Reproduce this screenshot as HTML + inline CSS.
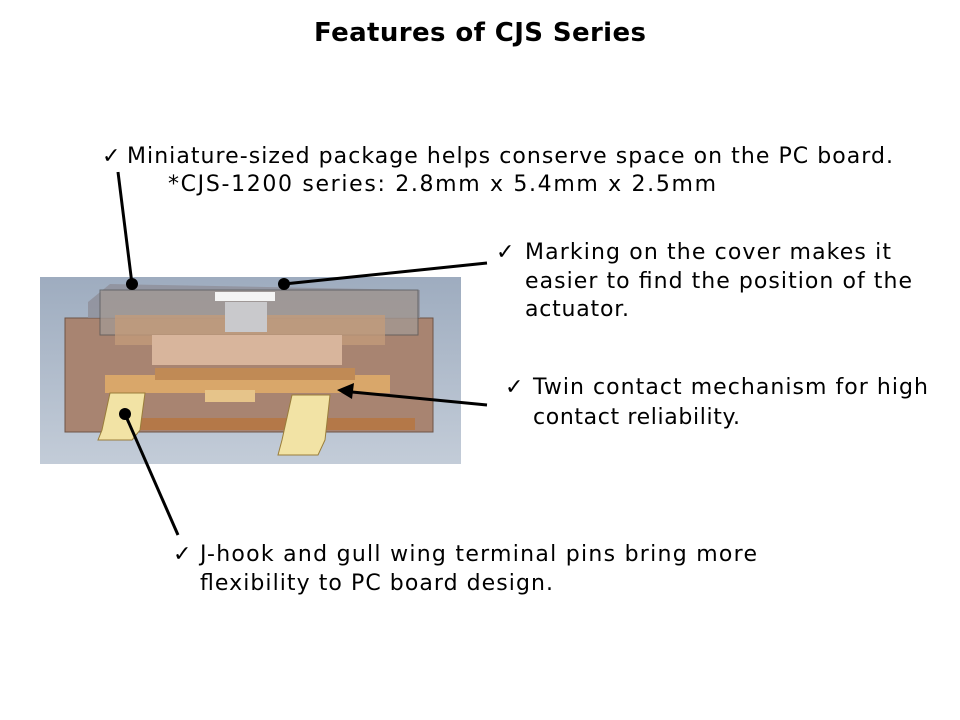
<!DOCTYPE html>
<html><head><meta charset="utf-8"><style>
html,body{margin:0;padding:0;background:#fff;}
svg{display:block;}
text{font-family:"DejaVu Sans","Liberation Sans",sans-serif;font-size:22px;fill:#000;}
</style></head><body>
<svg width="960" height="720" viewBox="0 0 960 720" xmlns="http://www.w3.org/2000/svg">
<defs>
<linearGradient id="bg" x1="0" y1="0" x2="0" y2="1">
<stop offset="0" stop-color="#9eacbf"/><stop offset="1" stop-color="#c3ccd8"/>
</linearGradient>
</defs>
<text x="314" y="41" textLength="332" font-weight="bold" style="font-size:26px;font-family:'DejaVu Sans',sans-serif">Features of CJS Series</text>

<!-- picture -->
<rect x="40" y="277" width="421" height="187" fill="url(#bg)"/>
<rect x="65" y="318" width="368" height="114" fill="#a88471" stroke="#6e5446" stroke-width="1"/>
<polygon points="88,302 110,284 420,290 420,318 88,318" fill="#8e8f98" opacity="0.8"/>
<rect x="100" y="290" width="318" height="45" fill="#a39a94" stroke="#555" opacity="0.75"/>
<rect x="115" y="315" width="270" height="30" fill="#c29b7a" opacity="0.8"/>
<rect x="152" y="335" width="190" height="30" fill="#d8b59c"/>
<rect x="225" y="302" width="42" height="30" fill="#c9c9cc"/>
<rect x="215" y="292" width="60" height="9" fill="#f4f4f4"/>
<rect x="105" y="375" width="285" height="18" fill="#d9a76a"/>
<rect x="155" y="368" width="200" height="12" fill="#c08a55"/>
<rect x="205" y="390" width="50" height="12" fill="#e6c48a"/>
<rect x="125" y="418" width="290" height="12" fill="#b7753e" opacity="0.8"/>
<polygon points="110,393 145,393 140,430 132,440 98,440 102,430" fill="#f2e3a5" stroke="#9a7d3a"/>
<polygon points="292,395 330,395 325,440 318,455 278,455 282,440" fill="#f2e3a5" stroke="#9a7d3a"/>

<!-- connectors -->
<g stroke="#000" stroke-width="3" fill="none">
<line x1="118" y1="172" x2="132" y2="284"/>
<line x1="487" y1="263" x2="284" y2="284"/>
<line x1="487" y1="405" x2="352" y2="392"/>
<line x1="178" y1="535" x2="125" y2="414"/>
</g>
<circle cx="132" cy="284" r="6"/>
<circle cx="284" cy="284" r="6"/>
<circle cx="125" cy="414" r="6"/>
<polygon points="337,390 354,383 352,399"/>

<!-- texts -->
<text x="102" y="163">✓</text>
<text x="127" y="163" textLength="766">Miniature-sized package helps conserve space on the PC board.</text>
<text x="168" y="191" textLength="548">*CJS-1200 series: 2.8mm x 5.4mm x 2.5mm</text>

<text x="496" y="259">✓</text>
<text x="525" y="259" textLength="366">Marking on the cover makes it</text>
<text x="525" y="288" textLength="387">easier to find the position of the</text>
<text x="525" y="316" textLength="104">actuator.</text>

<text x="505" y="394">✓</text>
<text x="533" y="394" textLength="395">Twin contact mechanism for high</text>
<text x="533" y="424" textLength="207">contact reliability.</text>

<text x="173" y="561">✓</text>
<text x="200" y="561" textLength="557">J-hook and gull wing terminal pins bring more</text>
<text x="200" y="590" textLength="353">flexibility to PC board design.</text>
</svg>
</body></html>
